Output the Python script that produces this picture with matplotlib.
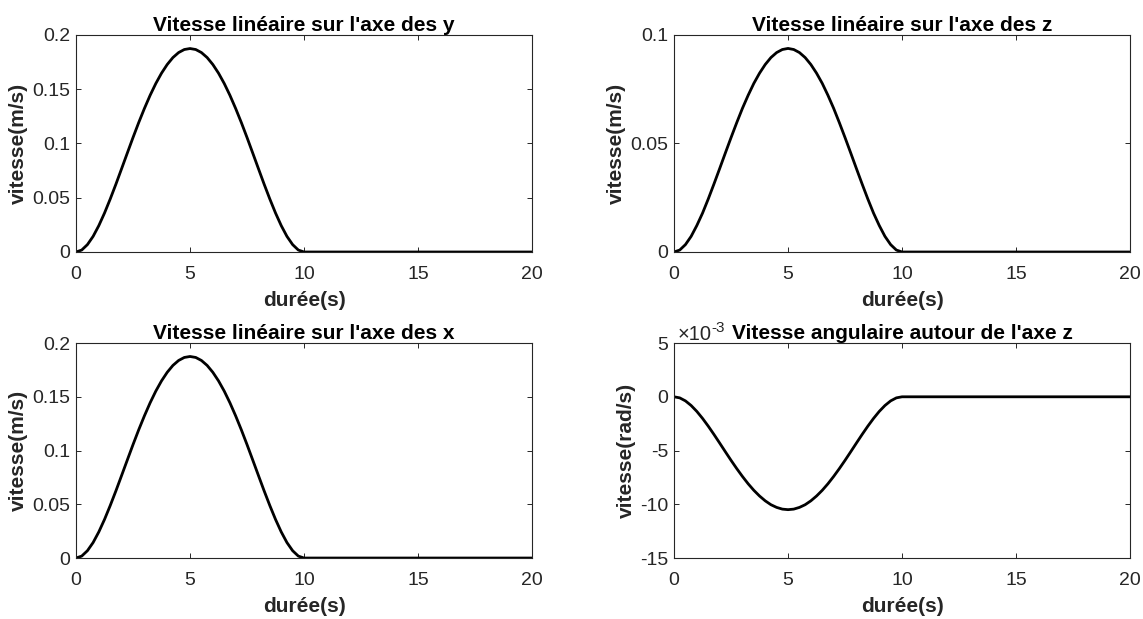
import matplotlib.pyplot as plt
from matplotlib.ticker import FuncFormatter

plt.rcParams['axes.unicode_minus'] = False
plt.rcParams.update({
    "font.family": ["Liberation Sans", "DejaVu Sans"],
    "xtick.direction": "in",
    "ytick.direction": "in",
    "xtick.top": True,
    "ytick.right": True,
})

# time samples (s): the move lasts 10 s, then the body stays at rest until 20 s
t = [0, 0.25, 0.5, 0.75, 1, 1.25, 1.5, 1.75, 2, 2.25, 2.5, 2.75, 3, 3.25, 3.5, 3.75,
     4, 4.25, 4.5, 4.75, 5, 5.25, 5.5, 5.75, 6, 6.25, 6.5, 6.75, 7, 7.25, 7.5, 7.75,
     8, 8.25, 8.5, 8.75, 9, 9.25, 9.5, 9.75, 10, 20]

# linear velocity along y (m/s)
vy = [0, 0.0018, 0.0068, 0.0144, 0.0243, 0.0359, 0.0488, 0.0625, 0.0768, 0.0912,
      0.1055, 0.1193, 0.1323, 0.1444, 0.1553, 0.1648, 0.1728, 0.1792, 0.1838, 0.1866,
      0.1875,
      0.1866, 0.1838, 0.1792, 0.1728, 0.1648, 0.1553, 0.1444, 0.1323, 0.1193, 0.1055,
      0.0912, 0.0768, 0.0625, 0.0488, 0.0359, 0.0243, 0.0144, 0.0068, 0.0018, 0, 0]
# linear velocity along z (m/s)
vz = [0, 0.0009, 0.0034, 0.0072, 0.0122, 0.0179, 0.0244, 0.0313, 0.0384, 0.0456,
      0.0527, 0.0596, 0.0662, 0.0722, 0.0777, 0.0824, 0.0864, 0.0896, 0.0919, 0.0933,
      0.0938,
      0.0933, 0.0919, 0.0896, 0.0864, 0.0824, 0.0777, 0.0722, 0.0662, 0.0596, 0.0527,
      0.0456, 0.0384, 0.0313, 0.0244, 0.0179, 0.0122, 0.0072, 0.0034, 0.0009, 0, 0]
# linear velocity along x (m/s)
vx = [0, 0.0018, 0.0068, 0.0144, 0.0243, 0.0359, 0.0488, 0.0625, 0.0768, 0.0912,
      0.1055, 0.1193, 0.1323, 0.1444, 0.1553, 0.1648, 0.1728, 0.1792, 0.1838, 0.1866,
      0.1875,
      0.1866, 0.1838, 0.1792, 0.1728, 0.1648, 0.1553, 0.1444, 0.1323, 0.1193, 0.1055,
      0.0912, 0.0768, 0.0625, 0.0488, 0.0359, 0.0243, 0.0144, 0.0068, 0.0018, 0, 0]
# angular velocity about z (rad/s)
wz = [0, -0.0001, -0.00038, -0.00081, -0.00136, -0.00201, -0.00273, -0.0035, -0.0043,
      -0.00511, -0.00591, -0.00668, -0.00741, -0.00809, -0.0087, -0.00923, -0.00968,
      -0.01004, -0.01029, -0.01045, -0.0105,
      -0.01045, -0.01029, -0.01004, -0.00968, -0.00923, -0.0087, -0.00809, -0.00741,
      -0.00668, -0.00591, -0.00511, -0.0043, -0.0035, -0.00273, -0.00201, -0.00136,
      -0.00081, -0.00038, -0.0001, 0, 0]

fig = plt.figure(figsize=(11.43, 6.19), dpi=100)
gray = "#262626"

panels = [
    ([0.0665, 0.5929, 0.3990, 0.3506], vy, "Vitesse linéaire sur l'axe des y",
     "vitesse(m/s)", (0, 0.2), [0, 0.05, 0.1, 0.15, 0.2]),
    ([0.5897, 0.5929, 0.3990, 0.3506], vz, "Vitesse linéaire sur l'axe des z",
     "vitesse(m/s)", (0, 0.1), [0, 0.05, 0.1]),
    ([0.0665, 0.0985, 0.3990, 0.3473], vx, "Vitesse linéaire sur l'axe des x",
     "vitesse(m/s)", (0, 0.2), [0, 0.05, 0.1, 0.15, 0.2]),
    ([0.5897, 0.0985, 0.3990, 0.3473], wz, "Vitesse angulaire autour de l'axe z",
     "vitesse(rad/s)", (-0.015, 0.005), [-0.015, -0.01, -0.005, 0, 0.005]),
]

for rect, v, title, ylab, ylim, yticks in panels:
    ax = fig.add_axes(rect)
    ax.plot(t, v, color="black", lw=2)
    ax.set_xlim(0, 20)
    ax.set_ylim(*ylim)
    ax.set_xticks([0, 5, 10, 15, 20])
    ax.set_yticks(yticks)
    ax.set_title(title, fontsize=15, fontweight="bold", pad=3)
    ax.set_xlabel("durée(s)", fontsize=15, fontweight="bold", color=gray, labelpad=6)
    ax.set_ylabel(ylab, fontsize=15, fontweight="bold", color=gray, labelpad=3)
    ax.tick_params(axis="both", labelsize=14, colors=gray, length=3.5, width=0.7)
    ax.tick_params(axis="x", pad=10)
    ax.tick_params(axis="y", pad=4)
    for spine in ax.spines.values():
        spine.set_linewidth(0.8)
        spine.set_color(gray)

    if ylim[0] < 0:
        # ticks in units of 1e-3 with the multiplier written above the axis
        ax.yaxis.set_major_formatter(FuncFormatter(lambda y, pos: f"{y * 1e3:g}"))
        ax.text(0.007, 1.014, "×10", transform=ax.transAxes, fontsize=14.5,
                color=gray, ha="left", va="baseline")
        ax.text(0.081, 1.05, "-3", transform=ax.transAxes, fontsize=11,
                color=gray, ha="left", va="baseline")
    else:
        ax.set_yticklabels([f"{y:g}" for y in yticks])

fig.savefig("out.png", dpi=100, facecolor="white")
